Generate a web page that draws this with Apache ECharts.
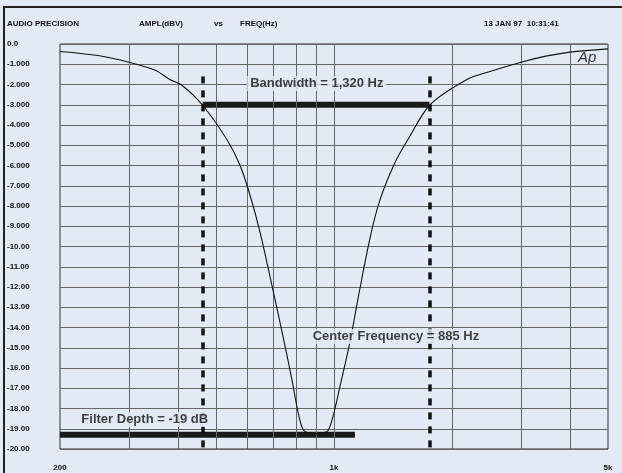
<!DOCTYPE html>
<html>
<head>
<meta charset="utf-8">
<script src="https://cdn.jsdelivr.net/npm/echarts@6/dist/echarts.min.js"></script>
<style>
  html, body { margin: 0; padding: 0; background: #e3eaf5; }
  #chart { width: 622px; height: 473px; }
</style>
</head>
<body>
<div id="chart"></div>
<script>
// notch response
var freqHz = [200, 250, 300, 350, 381, 407, 461, 533, 576, 611, 648, 707, 741, 781, 809, 834, 865, 894,
              930, 965, 994, 1036, 1099, 1151, 1235, 1310, 1431, 1544, 1758, 2184, 2500, 3000, 3470, 4000, 5000];
var ampDb = [-0.37, -0.57, -0.9, -1.3, -1.75, -2.0, -3.0, -4.72, -6.0, -7.48, -9.31, -12.6, -14.44, -16.57, -18.15, -19.04, -19.22, -19.24,
             -19.22, -19.1, -18.4, -16.9, -14.7, -12.6, -9.6, -7.7, -5.85, -4.72, -3.0, -1.75, -1.36, -0.9, -0.6, -0.4, -0.24];

var gridFreqs = [300, 400, 500, 600, 700, 800, 900, 1000, 2000, 3000, 4000];
var xLabelVals = [200, 1000, 5000];
var xLabelText = {200: '200', 1000: '1k', 5000: '5k'};

var bandEdges = [462, 1752];     // -3 dB points
var bandLevel = -3;
var depthLevel = -19.3;
var depthEnd = 1131;

var BG = '#e3eaf5';
var FONT = '"Liberation Sans", Arial, sans-serif';

function yLabel(v) {
    if (v === 0) return '0.0';
    if (Math.abs(v) < 10) return v.toFixed(3);
    return v.toFixed(2);
}

var curve = [];
for (var i = 0; i < freqHz.length; i++) curve.push([freqHz[i], ampDb[i]]);

var myChart = echarts.init(document.getElementById('chart'));

var option = {
    backgroundColor: BG,
    animation: false,
    title: [
        {text: 'AUDIO PRECISION', left: 7, top: 20},
        {text: 'AMPL(dBV)', left: 139, top: 20},
        {text: 'vs', left: 214, top: 20},
        {text: 'FREQ(Hz)', left: 240, top: 20},
        {text: '13 JAN 97  10:31:41', left: 484, top: 20}
    ].map(function (t) {
        t.textStyle = {fontFamily: FONT, fontSize: 8, fontWeight: 'bold', color: '#111'};
        t.padding = 0;
        return t;
    }),
    graphic: [
        {type: 'line', shape: {x1: 3, y1: 7, x2: 622, y2: 7}, style: {stroke: '#222', lineWidth: 2}},
        {type: 'line', shape: {x1: 4, y1: 6, x2: 4, y2: 473}, style: {stroke: '#222', lineWidth: 2}},
        {type: 'text', left: 578, top: 50,
         style: {text: 'Ap', font: 'italic 15px ' + FONT, fill: '#333'}}
    ],
    grid: {
        left: 60, right: 14, top: 44, bottom: 24,
        show: true, backgroundColor: BG, borderColor: '#333', borderWidth: 1
    },
    xAxis: {
        type: 'log',
        logBase: 10,
        min: 200,
        max: 5000,
        axisLine: {show: false},
        axisTick: {show: false},
        splitLine: {show: false},
        axisLabel: {
            customValues: xLabelVals,
            margin: 15,
            fontFamily: FONT, fontSize: 8, fontWeight: 'bold', color: '#111',
            formatter: function (v) { return xLabelText[Math.round(v)] || ''; }
        }
    },
    yAxis: {
        type: 'value',
        min: -20,
        max: 0,
        interval: 1,
        axisLine: {show: false},
        axisTick: {show: false},
        splitLine: {show: true, lineStyle: {color: '#666', width: 1}},
        axisLabel: {
            align: 'left',
            margin: 53,
            fontFamily: FONT, fontSize: 8, fontWeight: 'bold', color: '#111',
            formatter: yLabel
        }
    },
    series: [
        {
            // vertical grid lines of the log axis
            type: 'line',
            data: [],
            z: 1,
            silent: true,
            markLine: {
                silent: true,
                symbol: 'none',
                label: {show: false},
                lineStyle: {type: 'solid', color: '#666', width: 1},
                data: gridFreqs.map(function (f) { return {xAxis: f}; })
            }
        },
        {
            // dashed -3 dB markers
            type: 'line',
            data: [],
            z: 3,
            silent: true,
            markLine: {
                silent: true,
                symbol: 'none',
                label: {show: false},
                lineStyle: {type: [7, 7], color: '#111', width: 3.5},
                data: bandEdges.map(function (f) {
                    return [{coord: [f, -1.6]}, {coord: [f, -20]}];
                })
            }
        },
        {
            type: 'line',
            z: 4,
            symbol: 'none',
            lineStyle: {color: '#1a1a1a', width: 6},
            data: [[bandEdges[0], bandLevel], [bandEdges[1], bandLevel]]
        },
        {
            type: 'line',
            z: 4,
            symbol: 'none',
            lineStyle: {color: '#1a1a1a', width: 6},
            data: [[200, depthLevel], [depthEnd, depthLevel]]
        },
        {
            type: 'line',
            z: 5,
            symbol: 'none',
            smooth: 0.3,
            lineStyle: {color: '#111', width: 1.1},
            data: curve
        },
        {
            // annotation labels
            type: 'scatter',
            z: 6,
            symbolSize: 1,
            itemStyle: {color: 'rgba(0,0,0,0)'},
            label: {
                show: true,
                position: 'inside',
                fontFamily: FONT, fontSize: 13, fontWeight: 'bold', color: '#111',
                backgroundColor: BG,
                padding: [1, 3],
                formatter: function (p) { return p.data.name; }
            },
            data: [
                {name: 'Bandwidth = 1,320 Hz', value: [904, -1.95]},
                {name: 'Center Frequency = 885 Hz', value: [1439, -14.44]},
                {name: 'Filter Depth = -19 dB', value: [329, -18.54]}
            ]
        }
    ]
};
myChart.setOption(option);
</script>
</body>
</html>
